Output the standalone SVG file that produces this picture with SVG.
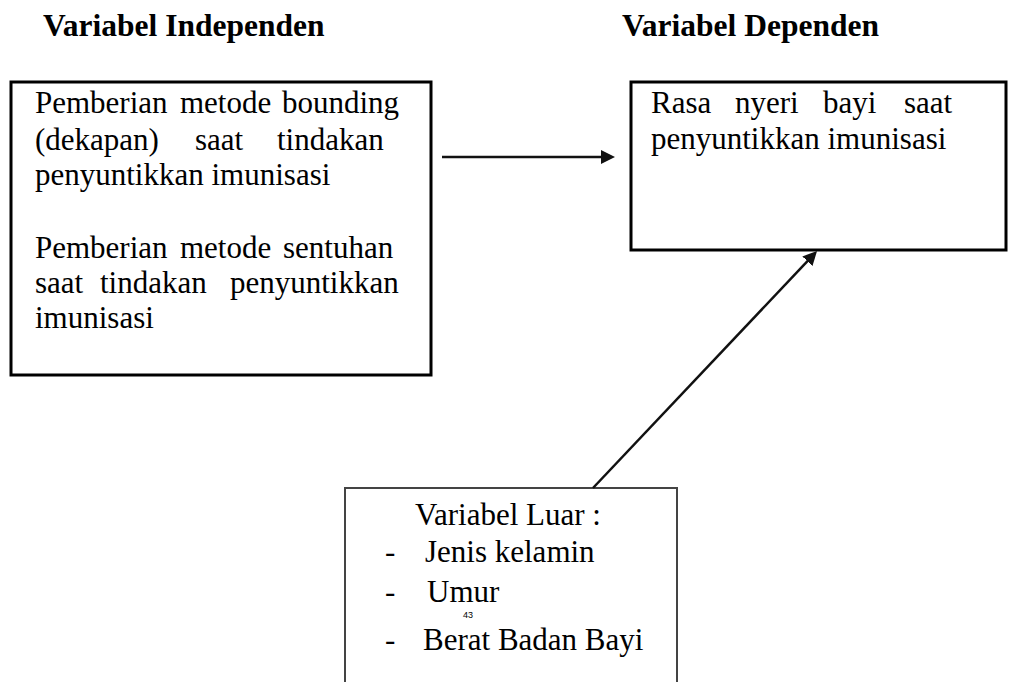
<svg xmlns="http://www.w3.org/2000/svg" width="1009" height="682" viewBox="0 0 1009 682">
<defs>
<style>
.t{font-family:"Liberation Serif","Times New Roman",serif;fill:#000}
.h{font-size:31.5px;font-weight:bold}
.b31{font-size:31px}
.box{fill:#fff;stroke:#000;stroke-width:3}
.open{fill:none;stroke:#444;stroke-width:2}
.conn{fill:none;stroke:#111;stroke-width:2.5}
.pn{font-family:"Liberation Sans",Arial,sans-serif;font-size:9px;fill:#000}
</style>
<marker id="ah" markerUnits="userSpaceOnUse" viewBox="0 0 14 14" refX="8" refY="7" markerWidth="14" markerHeight="14" orient="auto">
<path d="M0,0 L14,7 L0,14 z" fill="#111"/>
</marker>
</defs>
<rect width="1009" height="682" fill="#fff"/>
<g id="headings">
<text class="t h" x="43" y="36">Variabel Independen</text>
<text class="t h" x="622" y="36">Variabel Dependen</text>
</g>
<g id="node-independen">
<rect class="box" x="11" y="82" width="420" height="293"/>
<text class="t b31" y="113"><tspan x="35">Pemberian</tspan><tspan x="180">metode</tspan><tspan x="282">bounding</tspan></text>
<text class="t b31" y="150"><tspan x="35">(dekapan)</tspan><tspan x="195">saat</tspan><tspan x="277">tindakan</tspan></text>
<text class="t b31" x="35" y="185">penyuntikkan imunisasi</text>
<text class="t b31" y="258"><tspan x="35">Pemberian</tspan><tspan x="180">metode</tspan><tspan x="283">sentuhan</tspan></text>
<text class="t b31" y="293"><tspan x="35">saat</tspan><tspan x="100">tindakan</tspan><tspan x="230">penyuntikkan</tspan></text>
<text class="t b31" x="35" y="328">imunisasi</text>
</g>
<g id="node-dependen">
<rect class="box" x="631" y="82" width="375" height="168"/>
<text class="t b31" y="113"><tspan x="651">Rasa</tspan><tspan x="735">nyeri</tspan><tspan x="823">bayi</tspan><tspan x="904">saat</tspan></text>
<text class="t b31" x="651" y="149">penyuntikkan imunisasi</text>
</g>
<g id="node-luar">
<path class="open" d="M345,684 V488 H677 V684"/>
<text class="t b31" x="415" y="525">Variabel Luar :</text>
<text class="t b31" x="385" y="562">-</text>
<text class="t b31" x="425" y="562">Jenis kelamin</text>
<text class="t b31" x="385" y="602">-</text>
<text class="t b31" x="427" y="602">Umur</text>
<text class="pn" x="463" y="618">43</text>
<text class="t b31" x="385" y="650">-</text>
<text class="t b31" x="423" y="650">Berat Badan Bayi</text>
</g>
<g id="connectors">
<path class="conn" d="M442,157 L609,157" marker-end="url(#ah)"/>
<path class="conn" d="M593,488 L812.9,255.4" marker-end="url(#ah)"/>
</g>
</svg>
